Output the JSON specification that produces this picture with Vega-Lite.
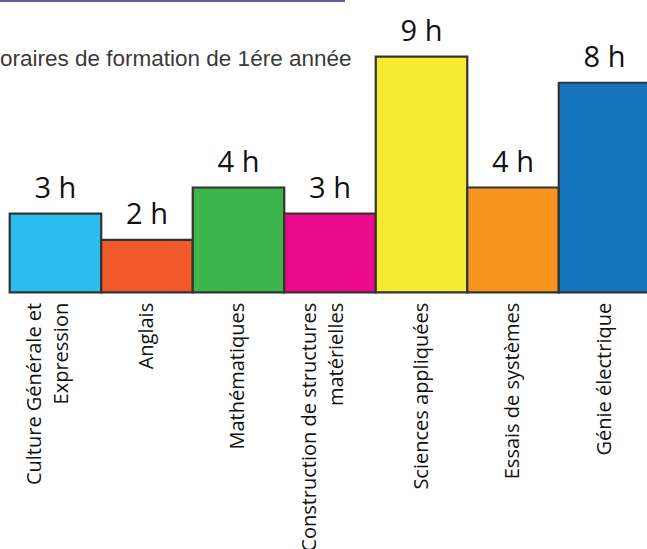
{
  "$schema": "https://vega.github.io/schema/vega-lite/v6.json",
  "padding": 0,
  "spacing": 10,
  "bounds": "flush",
  "background": "white",
  "config": {"font": "Open Sans"},
  "vconcat": [
    {
      "width": 345,
      "height": 2,
      "view": {"fill": "#6b5a9c", "stroke": null},
      "title": {
        "text": "oraires de formation de 1ére année",
        "orient": "bottom",
        "anchor": "start",
        "frame": "group",
        "offset": 46,
        "font": "Liberation Sans",
        "fontSize": 22.5,
        "fontWeight": "normal",
        "color": "#3a3a3a",
        "limit": 1000
      },
      "data": {"values": []},
      "mark": {"type": "point"},
      "encoding": {}
    },
    {
      "width": 660,
      "height": 280.3,
      "view": {"stroke": null},
      "data": {
        "values": [
          {"matiere": "Culture Générale et|Expression", "heures": 3, "etiquette": "3 h"},
          {"matiere": "Anglais", "heures": 2, "etiquette": "2 h"},
          {"matiere": "Mathématiques", "heures": 4, "etiquette": "4 h"},
          {"matiere": "Construction de structures|matérielles", "heures": 3, "etiquette": "3 h"},
          {"matiere": "Sciences appliquées", "heures": 9, "etiquette": "9 h"},
          {"matiere": "Essais de systèmes", "heures": 4, "etiquette": "4 h"},
          {"matiere": "Génie électrique", "heures": 8, "etiquette": "8 h"}
        ]
      },
      "encoding": {
        "x": {
          "field": "matiere",
          "type": "nominal",
          "sort": null,
          "scale": {"paddingInner": 0, "paddingOuter": 0.106},
          "axis": {
            "title": null,
            "labelAngle": -90,
            "labelAlign": "right",
            "labelBaseline": "middle",
            "labelFont": "Open Sans",
            "labelFontSize": 20,
            "labelColor": "#111111",
            "labelPadding": 10,
            "labelLimit": 0,
            "labelLineHeight": 27,
            "labelOffset": {"condition": {"test": "indexof(datum.value, '|') >= 0", "value": -20}, "value": 0},
            "labelExpr": "split(datum.label, '|')",
            "ticks": false,
            "domain": false,
            "grid": false
          }
        },
        "y": {
          "field": "heures",
          "type": "quantitative",
          "scale": {"domain": [0, 10.7], "nice": false},
          "axis": null
        }
      },
      "layer": [
        {
          "mark": {"type": "bar", "stroke": "#333333", "strokeWidth": 2.2},
          "encoding": {
            "color": {
              "field": "matiere",
              "type": "nominal",
              "legend": null,
              "scale": {
                "domain": [
                  "Culture Générale et|Expression",
                  "Anglais",
                  "Mathématiques",
                  "Construction de structures|matérielles",
                  "Sciences appliquées",
                  "Essais de systèmes",
                  "Génie électrique"
                ],
                "range": ["#2ebdef", "#f05a2b", "#3cb54a", "#ec098c", "#f4eb31", "#f7941e", "#1674bc"]
              }
            }
          }
        },
        {
          "mark": {
            "type": "text",
            "font": "Open Sans",
            "fontSize": 29,
            "baseline": "alphabetic",
            "dy": -16,
            "color": "#111111"
          },
          "encoding": {"text": {"field": "etiquette"}}
        }
      ]
    }
  ]
}
